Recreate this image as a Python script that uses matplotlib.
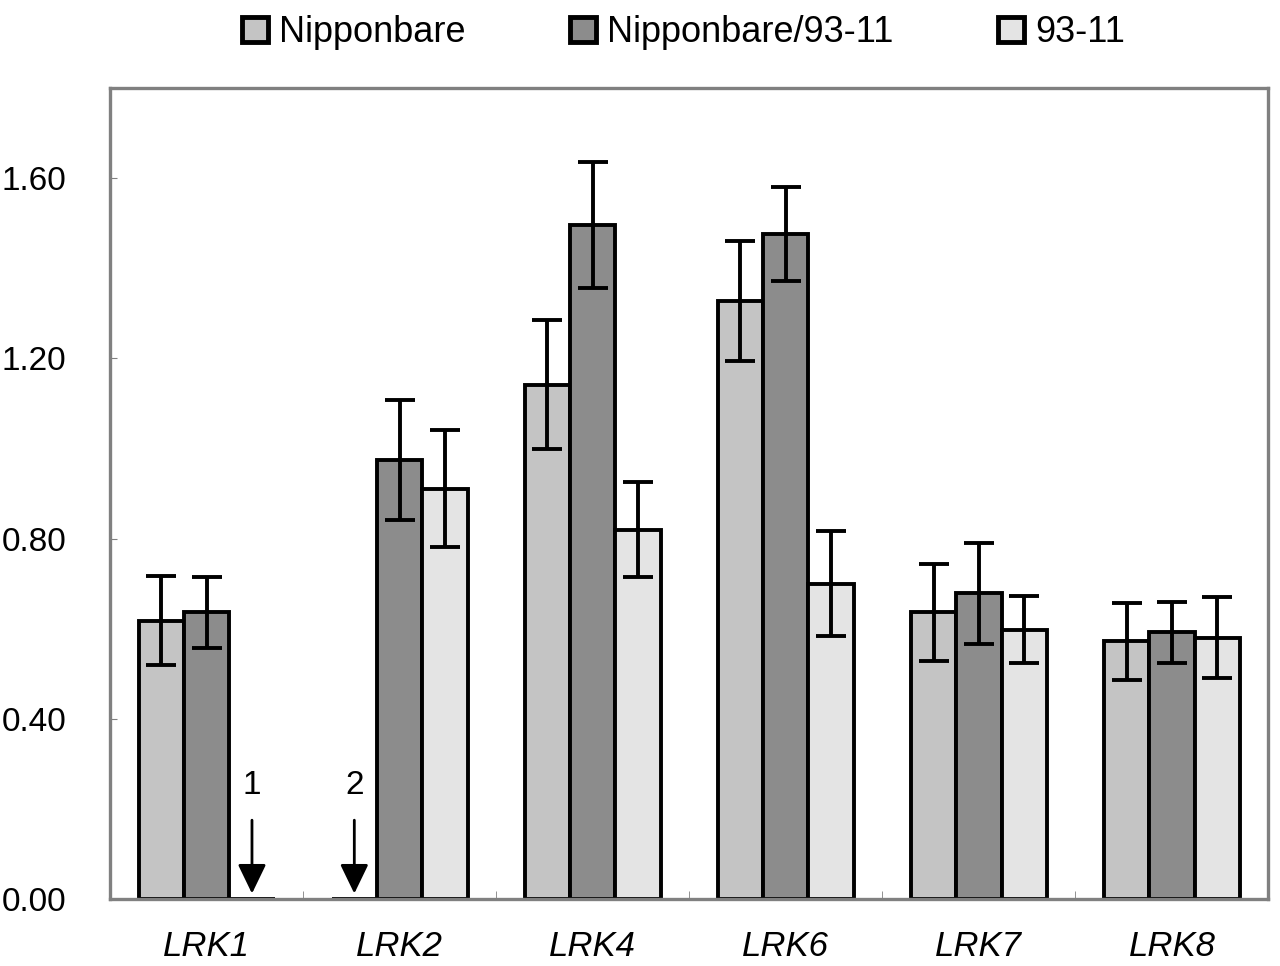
import matplotlib
matplotlib.use("Agg")
import matplotlib.pyplot as plt
import numpy as np

plt.rcParams['font.family'] = ['Liberation Sans', 'DejaVu Sans']

categories = ["LRK1", "LRK2", "LRK4", "LRK6", "LRK7", "LRK8"]
series_names = ["Nipponbare", "Nipponbare/93-11", "93-11"]
nip = [0.618, 0.0, 1.141, 1.327, 0.636, 0.572]
nip_err = [0.098, 0.0, 0.143, 0.134, 0.107, 0.085]
hyb = [0.636, 0.975, 1.496, 1.476, 0.678, 0.592]
hyb_err = [0.079, 0.133, 0.139, 0.105, 0.112, 0.068]
ind = [0.0, 0.911, 0.820, 0.700, 0.598, 0.580]
ind_err = [0.0, 0.130, 0.105, 0.116, 0.074, 0.090]
yticks = [0.0, 0.4, 0.8, 1.2, 1.6]
notes = ["1", "2"]

colors = ["#c4c4c4", "#8c8c8c", "#e4e4e4"]

fig = plt.figure(figsize=(12.8, 9.66), dpi=100)
ax = fig.add_axes([0.086, 0.0694, 0.905, 0.8395])

x = np.arange(len(categories))
w = 0.235
data = [(nip, nip_err), (hyb, hyb_err), (ind, ind_err)]
handles = []
for i, (vals, errs) in enumerate(data):
    pos = x + (i - 1) * w
    b = ax.bar(pos, vals, width=w, color=colors[i], edgecolor="black",
               linewidth=2.8, label=series_names[i], zorder=2)
    handles.append(b)
    ev = np.array(vals)
    ee = np.array(errs)
    mask = ev > 0
    ax.errorbar(pos[mask], ev[mask], yerr=ee[mask], fmt="none", ecolor="black",
                elinewidth=2.8, capsize=10.5, capthick=2.8, zorder=3)

# annotations for zero-value bars
for xi, note in zip([x[0] + w, x[1] - w], notes):
    ax.annotate(note, xy=(xi, 0.012), xytext=(xi, 0.218),
                ha="center", va="bottom", fontsize=24,
                arrowprops=dict(arrowstyle="-|>,head_length=0.6,head_width=0.29",
                                color="black", lw=2.0,
                                mutation_scale=30, shrinkA=12, shrinkB=0))

ax.set_xlim(-0.5, len(categories) - 0.5)
ax.set_ylim(0, 1.8)
ax.set_yticks(yticks)
ax.set_yticklabels([f"{v:.2f}" for v in yticks], fontsize=24)
ax.set_xticks(x)
ax.set_xticklabels(categories, fontsize=25, style="italic")
ax.tick_params(axis="x", length=0, pad=22)
ax.tick_params(axis="y", direction="in", length=5, color="#808080", pad=78)
ax.set_xticks(np.arange(0.5, len(categories) - 0.5, 1.0), minor=True)
ax.tick_params(axis="x", which="minor", direction="in", length=6, color="#808080")
for lab in ax.get_yticklabels():
    lab.set_horizontalalignment("left")
for s in ax.spines.values():
    s.set_color("#808080")
    s.set_linewidth(2.4)

leg = fig.legend(handles=handles, labels=series_names, loc="upper center",
                 bbox_to_anchor=(0.534, 1.018), ncol=3, frameon=False,
                 fontsize=26, handlelength=0.72, handleheight=0.72,
                 handletextpad=0.3, columnspacing=2.9)
for h in leg.legend_handles:
    h.set_linewidth(3.5)

fig.savefig("out.png", dpi=100)
